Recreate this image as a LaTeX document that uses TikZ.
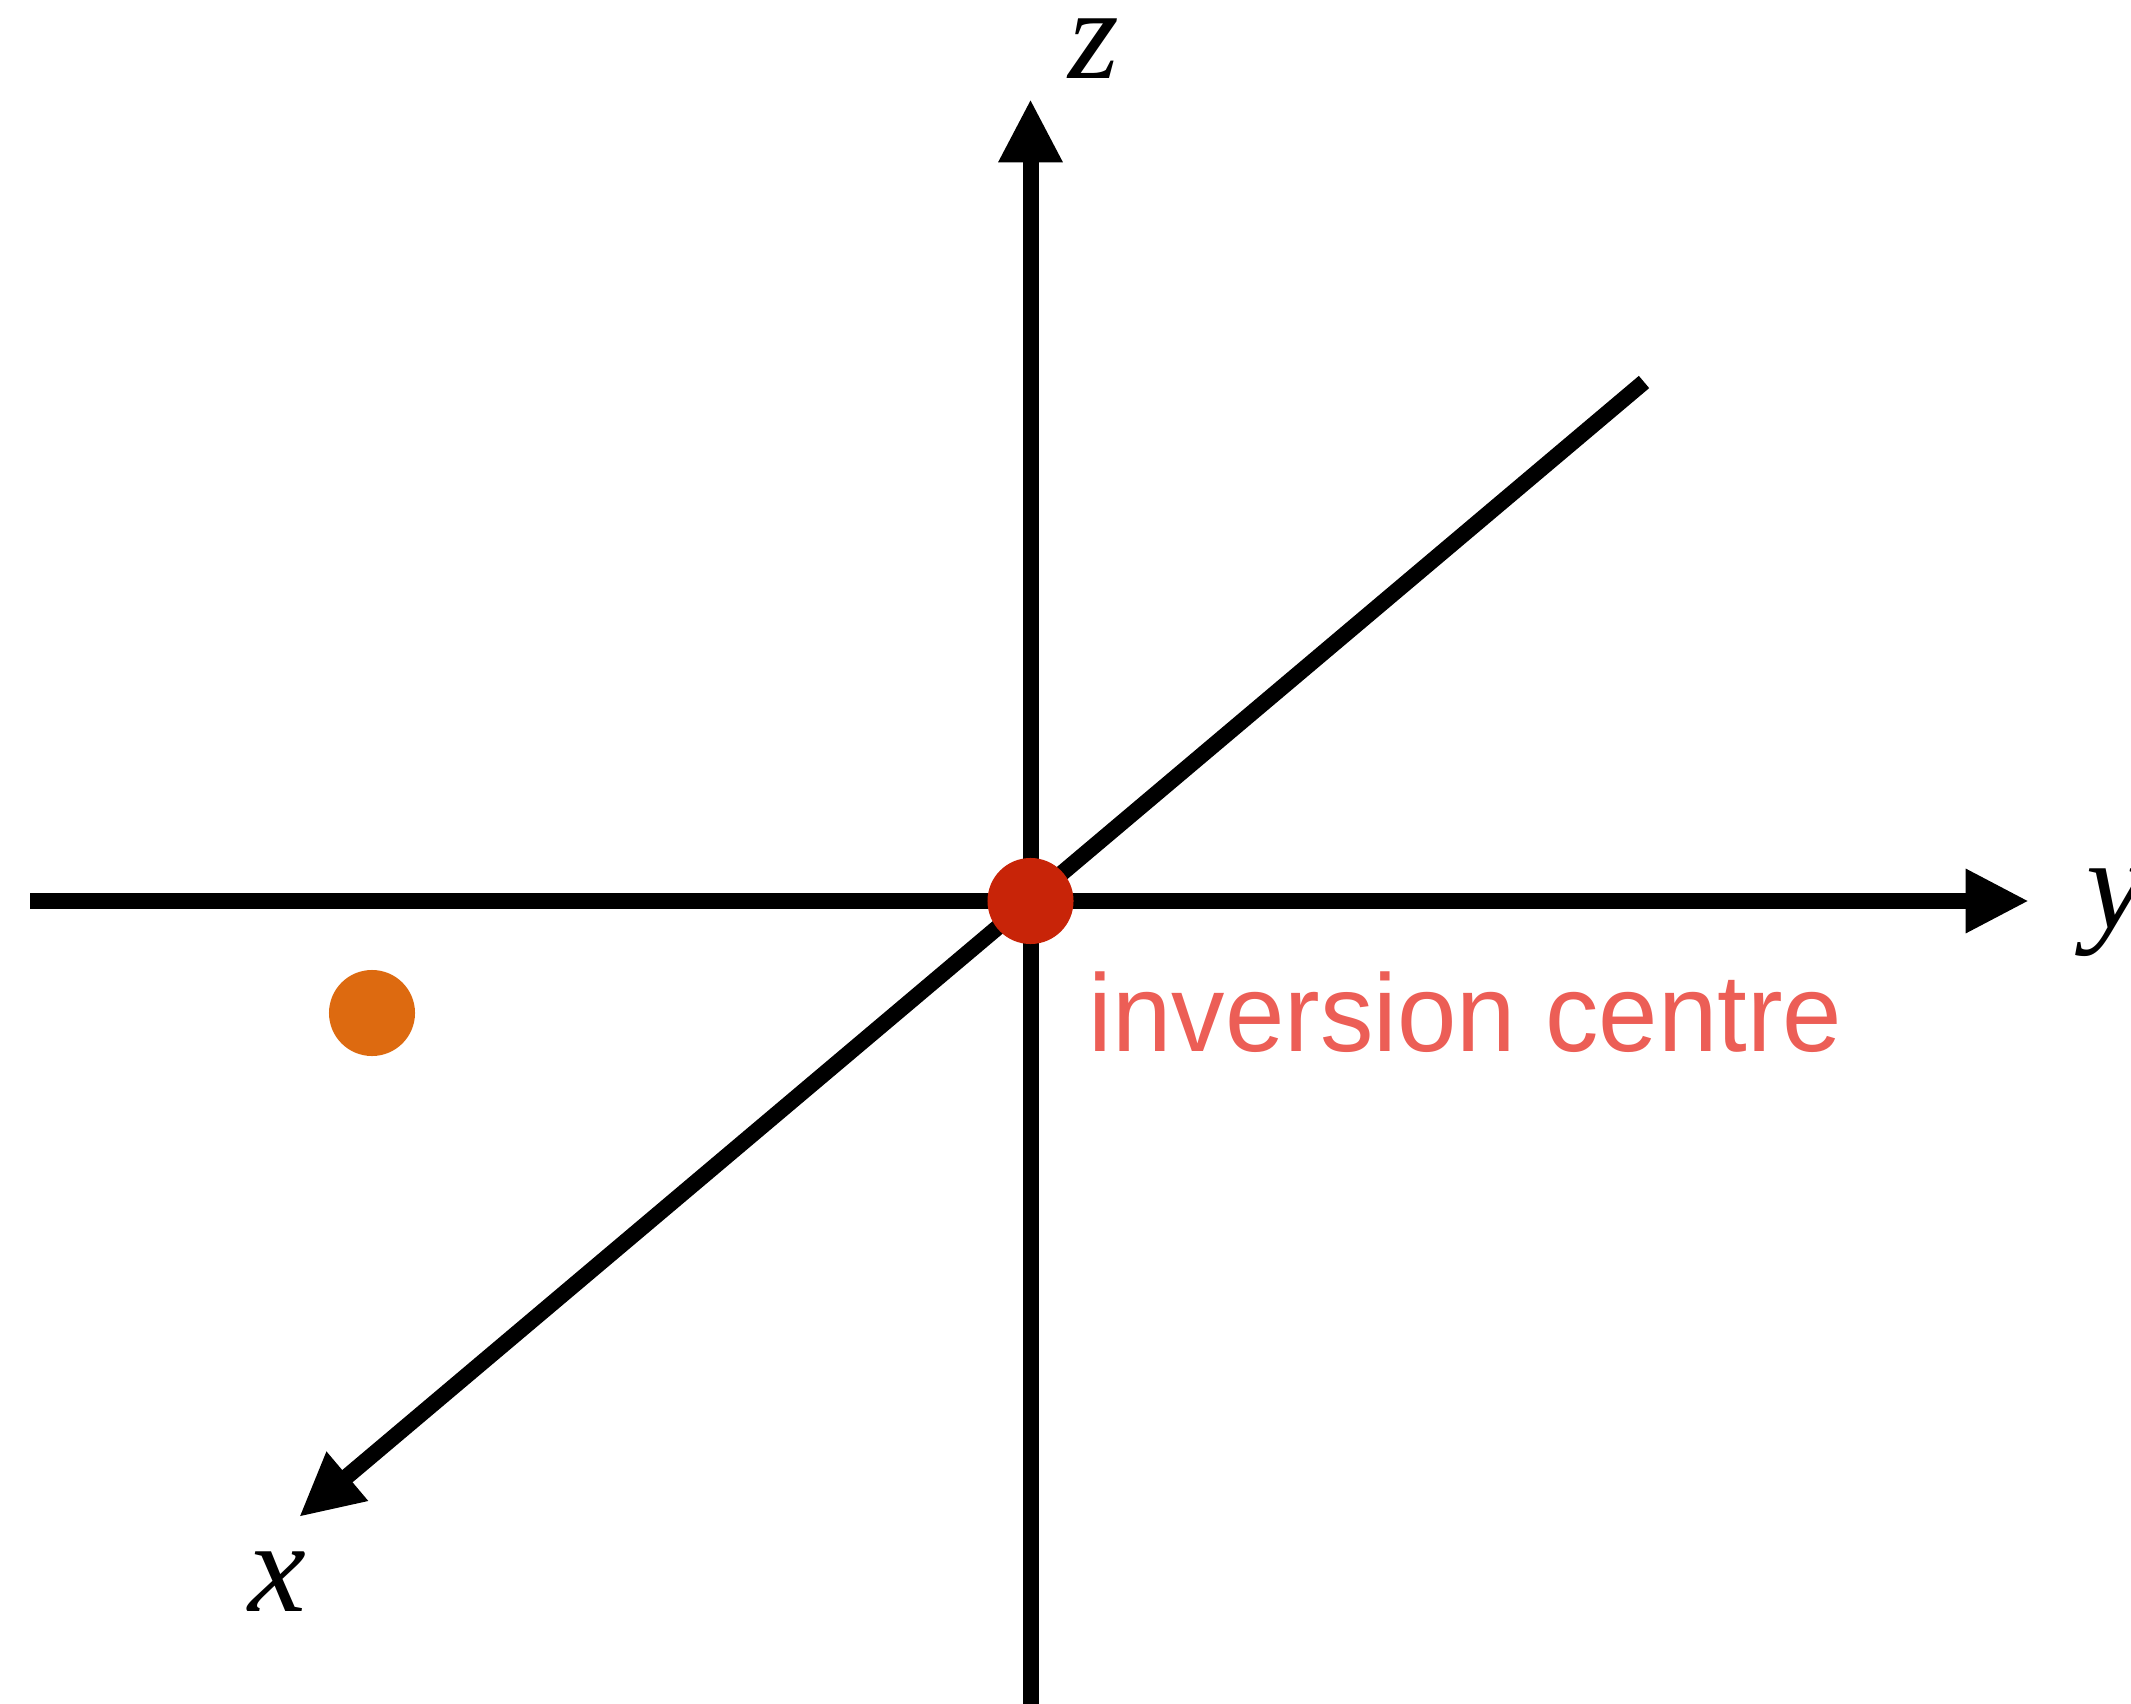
\documentclass[tikz,border=0pt]{standalone}
\usepackage{fontspec}
\usepackage{graphicx}
\usetikzlibrary{arrows.meta}
\setmainfont{Liberation Serif}
\newfontfamily\labelsans{Liberation Sans}
\definecolor{dotred}{RGB}{200,36,8}
\definecolor{dotorange}{RGB}{221,106,16}
\definecolor{txtred}{RGB}{236,94,86}
\begin{document}
\begin{tikzpicture}[x=0.01cm,y=-0.01cm,
  axis/.style={line width=4.55pt},
  axisarrow/.style={axis,-{Triangle[length=18pt,width=17pt]}},
  axlabel/.style={inner sep=0pt,anchor=base,font=\fontsize{37}{40}\selectfont\itshape},
  dotnode/.style={circle,inner sep=0pt,minimum size=0.86cm}]
\useasboundingbox (0,0) rectangle (2131,1704);
\coordinate (O) at (1030.5,901);
\coordinate (zbot) at (1030.5,1704);
\coordinate (ztip) at (1030.5,99);
\coordinate (yleft) at (30,901);
\coordinate (ytip) at (2029,901);
\coordinate (xback) at (1644,382);
\coordinate (xtip) at (299,1517);
\draw[axisarrow] (zbot) -- (ztip);
\draw[axisarrow] (yleft) -- (ytip);
\draw[axisarrow] (xback) -- (xtip);
\node[dotnode,fill=dotred] (inv) at (O) {};
\node[dotnode,fill=dotorange] (pt) at (372,1013) {};
\node[axlabel] (zl) at (1094,79) {z};
\node[axlabel,anchor=base west] (yl) at (2086,928) {y};
\node[axlabel] (xl) at (277,1611) {x};
\node[inner sep=0pt,anchor=base west,text=txtred] (lab) at (1088,1051)
  {\scalebox{0.97}[1]{\labelsans\fontsize{31.3}{36}\selectfont inversion centre}};
\end{tikzpicture}
\end{document}
